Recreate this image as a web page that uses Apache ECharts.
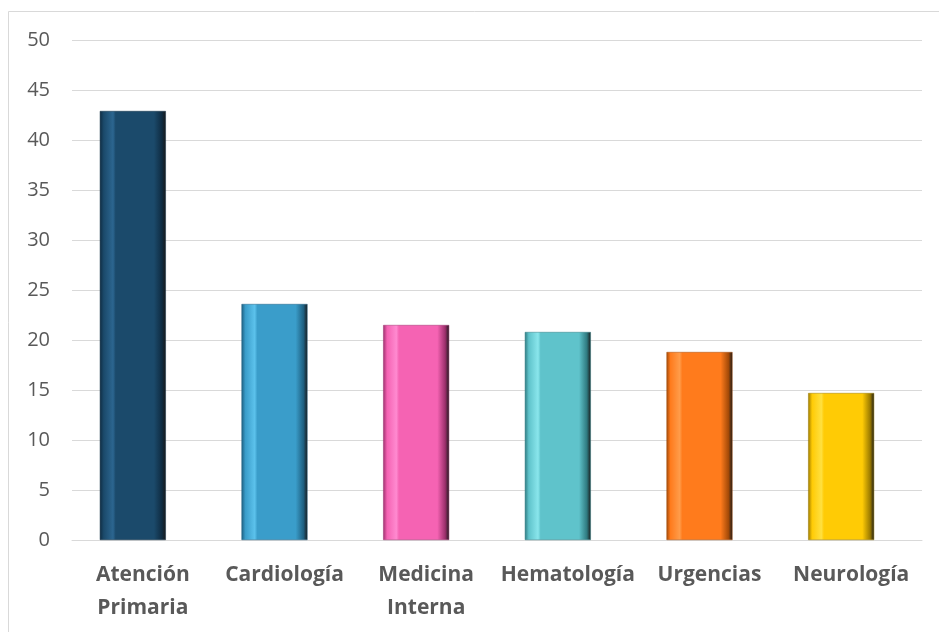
<!DOCTYPE html>
<html>
<head>
<meta charset="utf-8">
<script src="https://cdn.jsdelivr.net/npm/echarts@6/dist/echarts.min.js"></script>
<style>
  html, body { margin: 0; padding: 0; background: #fff; }
  #chart { width: 939px; height: 632px; }
</style>
</head>
<body>
<div id="chart"></div>
<script>
// Specialties and their values
const categories = ['Atención\nPrimaria', 'Cardiología', 'Medicina\nInterna', 'Hematología', 'Urgencias', 'Neurología'];
const values = [42.9, 23.6, 21.5, 20.8, 18.8, 14.7];
const yTicks = { min: 0, max: 50, interval: 5 };

// Base colour per bar with darker shade for the bevelled edges
const baseColors = ['#1b4a6b', '#3a9dca', '#f563b3', '#5fc3cb', '#ff7b1c', '#ffcb05'];
const edgeColors = ['#0f2c42', '#1e5f80', '#9c2f6c', '#2f7a80', '#a34a08', '#9b7a00'];
const lightColors = ['#2c6690', '#5cc2ec', '#ff8ad0', '#8ae6ec', '#ff9c4a', '#ffe040'];

function barStyle(i) {
  return {
    color: new echarts.graphic.LinearGradient(0, 0, 1, 0, [
      { offset: 0, color: edgeColors[i] },
      { offset: 0.06, color: baseColors[i] },
      { offset: 0.2, color: lightColors[i] },
      { offset: 0.24, color: baseColors[i] },
      { offset: 0.82, color: baseColors[i] },
      { offset: 0.94, color: edgeColors[i] },
      { offset: 1, color: '#1a1a1a' }
    ]),
    borderColor: edgeColors[i],
    borderWidth: 0.5
  };
}

const fontFamily = 'Open Sans, Liberation Sans, sans-serif';

const chart = echarts.init(document.getElementById('chart'));
chart.setOption({
  animation: false,
  backgroundColor: '#fff',
  graphic: [{
    type: 'rect',
    shape: { x: 8.5, y: 11.5, width: 940, height: 640 },
    style: { fill: 'none', stroke: '#d9d9d9', lineWidth: 1 },
    silent: true,
    z: -1
  }],
  grid: { left: 72, right: 17, top: 40, bottom: 92 },
  xAxis: {
    type: 'category',
    data: categories,
    axisTick: { show: false },
    axisLine: { lineStyle: { color: '#d9d9d9', width: 1 } },
    axisLabel: {
      color: '#595959',
      fontFamily: fontFamily,
      fontWeight: 'bold',
      fontSize: 21,
      lineHeight: 33,
      margin: 19,
      interval: 0
    }
  },
  yAxis: {
    type: 'value',
    min: yTicks.min,
    max: yTicks.max,
    interval: yTicks.interval,
    axisLine: { show: false },
    axisTick: { show: false },
    splitLine: { lineStyle: { color: '#d9d9d9', width: 1 } },
    axisLabel: {
      color: '#595959',
      fontFamily: fontFamily,
      fontSize: 20,
      margin: 22
    }
  },
  series: [{
    type: 'bar',
    barWidth: 66,
    barGap: 0,
    data: values.map((v, i) => ({ value: v, itemStyle: barStyle(i) }))
  }, {
    // empty spacer series: shifts the bars slightly left of the category centre
    type: 'bar',
    barWidth: 20,
    barGap: 0,
    silent: true,
    data: []
  }]
});
</script>
</body>
</html>
